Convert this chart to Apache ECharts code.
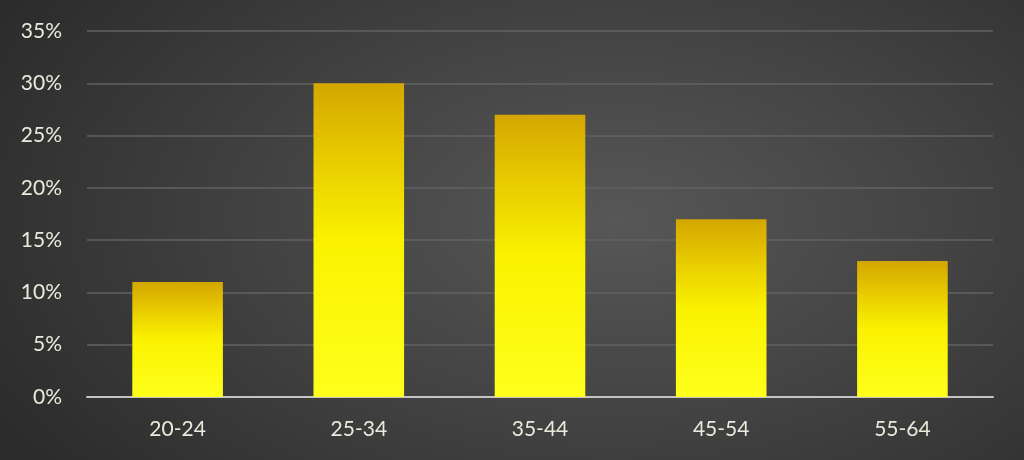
<!doctype html>
<html lang="en">
<head>
<meta charset="UTF-8">
<title>Age groups</title>
<style>
  html, body { margin: 0; padding: 0; }
  #main {
    width: 1024px; height: 460px;
    background: radial-gradient(ellipse 70% 90% at 60% 48%, #575757 0%, #444 45%, #2b2b2b 100%);
  }
</style>
</head>
<body>
<div id="main"></div>
<script src="https://cdn.jsdelivr.net/npm/echarts@6/dist/echarts.min.js"></script>
<script>
  var categories = ['20-24', '25-34', '35-44', '45-54', '55-64'];
  var shares = [11, 30, 27, 17, 13];
  var yTicks = [0, 5, 10, 15, 20, 25, 30, 35];

  var chart = echarts.init(document.getElementById('main'), null, { renderer: 'canvas' });

  var barFill = new echarts.graphic.LinearGradient(0, 0, 0, 1, [
    { offset: 0, color: '#d4a600' },
    { offset: 0.22, color: '#e6c800' },
    { offset: 0.5, color: '#faf200' },
    { offset: 1, color: '#ffff1c' }
  ]);

  chart.setOption({
    backgroundColor: 'transparent',
    grid: { left: 87, right: 31, top: 31, bottom: 63 },
    xAxis: {
      type: 'category',
      data: categories,
      axisLine: { lineStyle: { color: '#c4c4c4', width: 2 } },
      axisTick: { show: false },
      axisLabel: { color: '#eaeadc', fontSize: 21, fontFamily: 'Lato', margin: 22 }
    },
    yAxis: {
      type: 'value',
      min: yTicks[0],
      max: yTicks[yTicks.length - 1],
      interval: 5,
      axisLine: { show: false },
      axisTick: { show: false },
      splitLine: { lineStyle: { color: '#626262', width: 1.5 } },
      axisLabel: {
        color: '#eaeadc', fontSize: 21, fontFamily: 'Lato', margin: 25,
        formatter: function (v) { return v + '%'; }
      }
    },
    series: [{
      type: 'bar',
      data: shares,
      barWidth: '50%',
      itemStyle: {
        color: barFill,
        shadowColor: 'rgba(0,0,0,0.35)',
        shadowBlur: 3,
        shadowOffsetX: 1
      }
    }]
  });
</script>
</body>
</html>
